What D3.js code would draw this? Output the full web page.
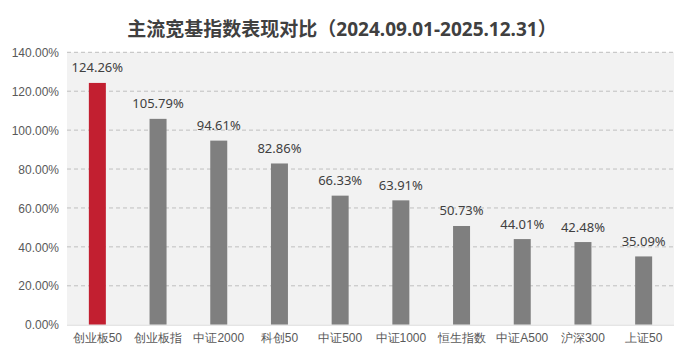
<!DOCTYPE html>
<html><head><meta charset="utf-8">
<script src="https://cdn.jsdelivr.net/npm/d3@7"></script>
<style>
html,body{margin:0;padding:0;background:#fff;}
svg{display:block;font-family:"Noto Sans","Noto Sans CJK SC",sans-serif;}
</style></head>
<body>
<svg id="chart" width="689" height="358"></svg>
<script>
const title = "主流宽基指数表现对比（2024.09.01-2025.12.31）";
const categories = ["创业板50","创业板指","中证2000","科创50","中证500","中证1000","恒生指数","中证A500","沪深300","上证50"];
const values = [124.26,105.79,94.61,82.86,66.33,63.91,50.73,44.01,42.48,35.09];
const yTicks = [0,20,40,60,80,100,120,140];
const highlight = "创业板50";

const svg = d3.select("#chart");
const m = {left:67, right:15, top:52.3, bottom:33.3};
const W = 689, H = 358;
const x = d3.scaleBand().domain(categories).range([m.left, W-m.right]).paddingInner(0.72).paddingOuter(0.36);
const y = d3.scaleLinear().domain([0,140]).range([H-m.bottom, m.top]);

// plot background
svg.append("rect").attr("x", m.left).attr("y", m.top)
  .attr("width", W-m.right-m.left).attr("height", H-m.bottom-m.top).attr("fill","#f2f2f2");

// gridlines
svg.append("g").selectAll("line").data(yTicks.filter(d=>d>0)).join("line")
  .attr("x1", m.left).attr("x2", W-m.right)
  .attr("y1", d=>y(d)).attr("y2", d=>y(d))
  .attr("stroke","#bfbfbf").attr("stroke-width",1).attr("stroke-dasharray","4,3");

// y axis
const yAxis = d3.axisLeft(y).tickValues(yTicks).tickFormat(d=>d.toFixed(2)+"%").tickSize(0).tickPadding(8);
const gy = svg.append("g").attr("transform",`translate(${m.left},0)`).call(yAxis);
gy.select(".domain").remove();
gy.selectAll("text").attr("fill","#595959").style("font-size","12px").attr("dy","0.35em");

// bars
svg.append("g").selectAll("rect").data(categories).join("rect")
  .attr("x", d=>x(d)).attr("width", x.bandwidth())
  .attr("y", (d,i)=>y(values[i])).attr("height",(d,i)=>y(0)-y(values[i]))
  .attr("fill", d=>d===highlight ? "#c21f30" : "#7f7f7f");

// x axis
const xAxis = d3.axisBottom(x).tickSize(0).tickPadding(9);
const gx = svg.append("g").attr("transform",`translate(0,${y(0)})`).call(xAxis);
gx.select(".domain").attr("stroke","#d9d9d9").attr("d",`M${m.left},0.5H${W-m.right}`);
gx.selectAll("text").attr("fill","#595959").style("font-size","12px");

// value labels
svg.append("g").selectAll("text").data(categories).join("text")
  .attr("x", d=>x(d)+x.bandwidth()/2).attr("y",(d,i)=>y(values[i])-10.5)
  .attr("text-anchor","middle").attr("fill","#404040").style("font-size","13px")
  .text((d,i)=>values[i].toFixed(2)+"%");

// title
svg.append("text").attr("x", 342).attr("y", 36).attr("text-anchor","middle")
  .attr("fill","#404040").style("font-size","19px").style("font-weight","bold")
  .text(title);
</script>
</body></html>
